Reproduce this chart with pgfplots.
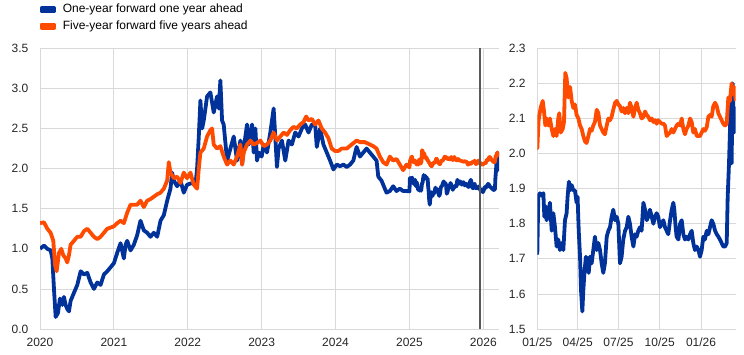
\documentclass[border=0pt]{standalone}
\usepackage{fontspec}
\setmainfont{Liberation Sans}
\usepackage{pgfplots}
\usepackage{pgfplotstable}
\pgfplotsset{compat=1.18}
\definecolor{ecbblue}{RGB}{0,50,153}
\definecolor{ecborange}{RGB}{255,75,0}
\definecolor{gridgray}{RGB}{217,217,217}
\definecolor{vline}{RGB}{90,90,90}

\pgfplotstableread{
x y
2020.000 1.00
2020.054 1.04
2020.099 1.00
2020.144 0.98
2020.167 0.88
2020.189 0.50
2020.212 0.15
2020.243 0.20
2020.270 0.38
2020.302 0.30
2020.324 0.40
2020.347 0.30
2020.369 0.25
2020.392 0.22
2020.414 0.35
2020.459 0.45
2020.505 0.55
2020.550 0.72
2020.595 0.68
2020.640 0.70
2020.685 0.58
2020.730 0.50
2020.775 0.58
2020.820 0.55
2020.865 0.68
2020.910 0.72
2021.000 0.82
2021.045 0.95
2021.090 1.07
2021.135 0.88
2021.158 1.05
2021.180 1.10
2021.225 0.98
2021.270 1.05
2021.315 1.17
2021.360 1.35
2021.405 1.23
2021.450 1.20
2021.495 1.15
2021.541 1.20
2021.586 1.15
2021.631 1.35
2021.676 1.42
2021.721 1.60
2021.766 1.75
2021.788 1.95
2021.811 1.85
2021.856 1.78
2021.901 1.85
2021.946 1.70
2021.991 1.80
2022.059 1.82
2022.104 1.80
2022.126 2.00
2022.149 2.40
2022.171 2.85
2022.194 2.50
2022.216 2.60
2022.239 2.75
2022.261 2.90
2022.306 2.95
2022.351 2.70
2022.396 2.90
2022.419 2.75
2022.441 3.10
2022.464 2.60
2022.486 2.55
2022.532 2.10
2022.577 2.25
2022.622 2.40
2022.667 2.10
2022.712 2.35
2022.735 2.05
2022.757 2.25
2022.802 2.55
2022.825 2.30
2022.870 2.55
2022.892 2.20
2022.915 2.50
2022.937 2.10
2022.960 2.20
2023.000 2.15
2023.027 2.30
2023.072 2.20
2023.117 2.45
2023.162 2.75
2023.184 2.40
2023.207 2.02
2023.229 2.25
2023.274 2.35
2023.319 2.10
2023.364 2.35
2023.409 2.30
2023.454 2.45
2023.499 2.40
2023.544 2.50
2023.589 2.55
2023.634 2.45
2023.679 2.55
2023.724 2.55
2023.746 2.27
2023.791 2.50
2023.836 2.30
2023.881 2.20
2023.926 2.10
2023.971 1.99
2024.016 2.05
2024.061 2.03
2024.106 2.05
2024.151 2.02
2024.196 2.05
2024.240 2.10
2024.285 2.27
2024.330 2.15
2024.375 2.20
2024.420 2.25
2024.465 2.20
2024.510 2.15
2024.555 2.10
2024.578 1.90
2024.622 1.85
2024.667 1.75
2024.690 1.70
2024.735 1.72
2024.780 1.78
2024.825 1.72
2024.870 1.75
2024.915 1.72
2024.960 1.72
2025.000 1.716
2025.006 1.877
2025.016 1.887
2025.026 1.880
2025.037 1.887
2025.043 1.820
2025.051 1.850
2025.057 1.810
2025.067 1.830
2025.077 1.860
2025.088 1.780
2025.098 1.830
2025.108 1.790
2025.118 1.735
2025.128 1.755
2025.138 1.725
2025.149 1.745
2025.159 1.725
2025.169 1.810
2025.179 1.830
2025.185 1.877
2025.193 1.920
2025.200 1.895
2025.210 1.910
2025.220 1.895
2025.230 1.895
2025.240 1.860
2025.246 1.877
2025.253 1.780
2025.261 1.706
2025.267 1.610
2025.275 1.550
2025.281 1.610
2025.289 1.668
2025.297 1.706
2025.305 1.687
2025.314 1.660
2025.322 1.706
2025.332 1.687
2025.342 1.725
2025.352 1.763
2025.363 1.725
2025.373 1.745
2025.383 1.725
2025.393 1.687
2025.403 1.660
2025.413 1.687
2025.424 1.763
2025.434 1.780
2025.444 1.790
2025.454 1.820
2025.464 1.840
2025.475 1.810
2025.485 1.820
2025.495 1.800
2025.505 1.687
2025.515 1.706
2025.525 1.755
2025.536 1.780
2025.546 1.790
2025.556 1.820
2025.566 1.800
2025.576 1.763
2025.587 1.735
2025.597 1.770
2025.607 1.763
2025.617 1.780
2025.627 1.790
2025.637 1.780
2025.648 1.860
2025.658 1.840
2025.668 1.810
2025.678 1.820
2025.688 1.840
2025.699 1.820
2025.709 1.800
2025.719 1.820
2025.729 1.830
2025.739 1.820
2025.749 1.790
2025.760 1.800
2025.770 1.810
2025.780 1.790
2025.790 1.780
2025.800 1.770
2025.811 1.810
2025.821 1.840
2025.831 1.860
2025.837 1.840
2025.845 1.790
2025.851 1.763
2025.862 1.755
2025.872 1.800
2025.882 1.810
2025.892 1.770
2025.902 1.755
2025.912 1.763
2025.923 1.755
2025.933 1.770
2025.943 1.780
2025.953 1.745
2025.963 1.725
2025.974 1.735
2025.984 1.725
2025.994 1.706
2026.004 1.725
2026.014 1.763
2026.024 1.755
2026.035 1.780
2026.045 1.770
2026.055 1.790
2026.065 1.810
2026.075 1.800
2026.086 1.780
2026.096 1.770
2026.106 1.763
2026.116 1.755
2026.126 1.745
2026.136 1.735
2026.147 1.735
2026.157 1.745
2026.163 1.877
2026.171 1.972
2026.177 2.067
2026.181 2.162
2026.187 1.972
2026.193 2.200
2026.202 2.060
2026.212 2.134
}\bluedata

\pgfplotstableread{
x y
2020.000 1.32
2020.054 1.33
2020.099 1.25
2020.144 1.20
2020.180 1.10
2020.203 0.80
2020.225 0.72
2020.257 0.95
2020.288 1.00
2020.315 0.92
2020.347 0.88
2020.369 0.83
2020.392 0.92
2020.414 1.05
2020.459 1.10
2020.505 1.15
2020.550 1.15
2020.595 1.22
2020.640 1.25
2020.685 1.20
2020.730 1.15
2020.775 1.12
2020.820 1.15
2020.865 1.20
2020.910 1.25
2021.000 1.28
2021.045 1.32
2021.090 1.35
2021.135 1.32
2021.180 1.45
2021.225 1.55
2021.270 1.55
2021.315 1.55
2021.360 1.60
2021.405 1.52
2021.450 1.60
2021.495 1.62
2021.541 1.65
2021.586 1.68
2021.631 1.70
2021.676 1.75
2021.721 1.85
2021.743 2.08
2021.766 1.95
2021.811 1.88
2021.856 1.90
2021.901 1.82
2021.946 1.95
2021.991 1.88
2022.036 1.95
2022.081 1.80
2022.126 1.75
2022.149 2.00
2022.171 2.20
2022.216 2.25
2022.261 2.40
2022.306 2.48
2022.329 2.50
2022.351 2.30
2022.396 2.25
2022.441 2.28
2022.486 2.15
2022.532 2.05
2022.577 2.10
2022.622 2.05
2022.667 2.15
2022.712 2.30
2022.735 2.05
2022.757 2.20
2022.802 2.30
2022.847 2.35
2022.892 2.30
2022.937 2.32
2022.982 2.35
2023.027 2.28
2023.072 2.30
2023.117 2.35
2023.162 2.45
2023.207 2.35
2023.252 2.40
2023.297 2.45
2023.342 2.42
2023.387 2.48
2023.431 2.52
2023.476 2.50
2023.521 2.55
2023.566 2.58
2023.602 2.65
2023.634 2.60
2023.679 2.62
2023.724 2.55
2023.769 2.60
2023.813 2.50
2023.858 2.45
2023.903 2.38
2023.948 2.25
2023.993 2.22
2024.038 2.22
2024.083 2.25
2024.151 2.25
2024.218 2.30
2024.285 2.35
2024.330 2.33
2024.398 2.33
2024.465 2.30
2024.510 2.28
2024.555 2.25
2024.600 2.15
2024.645 2.08
2024.690 2.05
2024.735 2.15
2024.780 2.10
2024.825 2.12
2024.870 2.05
2024.915 1.98
2024.960 2.05
2025.000 2.015
2025.008 2.095
2025.020 2.130
2025.033 2.150
2025.041 2.120
2025.049 2.080
2025.057 2.100
2025.067 2.080
2025.077 2.100
2025.088 2.070
2025.098 2.050
2025.108 2.070
2025.118 2.050
2025.128 2.100
2025.134 2.115
2025.143 2.060
2025.155 2.070
2025.163 2.090
2025.171 2.230
2025.179 2.215
2025.189 2.160
2025.200 2.190
2025.210 2.150
2025.220 2.130
2025.230 2.140
2025.240 2.110
2025.251 2.100
2025.261 2.080
2025.271 2.070
2025.281 2.050
2025.291 2.035
2025.301 2.030
2025.312 2.050
2025.322 2.070
2025.332 2.065
2025.342 2.080
2025.352 2.090
2025.363 2.125
2025.373 2.115
2025.383 2.080
2025.393 2.070
2025.403 2.060
2025.413 2.055
2025.424 2.080
2025.434 2.100
2025.444 2.095
2025.454 2.105
2025.464 2.125
2025.475 2.145
2025.485 2.150
2025.495 2.140
2025.505 2.135
2025.515 2.120
2025.525 2.130
2025.536 2.115
2025.546 2.130
2025.556 2.115
2025.566 2.145
2025.576 2.130
2025.587 2.105
2025.597 2.130
2025.607 2.145
2025.617 2.125
2025.627 2.115
2025.637 2.100
2025.648 2.105
2025.658 2.120
2025.668 2.110
2025.678 2.105
2025.688 2.095
2025.699 2.100
2025.709 2.090
2025.719 2.095
2025.729 2.085
2025.739 2.095
2025.749 2.090
2025.760 2.085
2025.770 2.085
2025.780 2.080
2025.790 2.050
2025.800 2.055
2025.811 2.060
2025.821 2.070
2025.831 2.060
2025.841 2.070
2025.851 2.080
2025.862 2.085
2025.872 2.080
2025.882 2.100
2025.892 2.070
2025.902 2.055
2025.912 2.070
2025.923 2.080
2025.933 2.100
2025.943 2.090
2025.953 2.060
2025.963 2.070
2025.974 2.050
2025.984 2.050
2025.994 2.050
2026.004 2.060
2026.014 2.070
2026.024 2.065
2026.035 2.075
2026.045 2.105
2026.055 2.110
2026.065 2.105
2026.075 2.135
2026.086 2.145
2026.096 2.135
2026.106 2.115
2026.116 2.105
2026.126 2.095
2026.136 2.085
2026.147 2.080
2026.157 2.085
2026.167 2.160
2026.177 2.150
2026.187 2.200
2026.193 2.170
2026.202 2.190
2026.212 2.150
}\orangedata

\pgfplotsset{
  ecbstyle/.style={
    scale only axis,
    height=280.7pt,
    axis x line*=bottom,
    axis y line*=left,
    axis line style={draw=gridgray, line width=0.8pt},
    grid=major,
    major grid style={draw=gridgray, line width=0.8pt},
    major tick length=0pt,
    tick label style={font=\fontsize{12}{14}\selectfont, text=black!85},
    xticklabel style={anchor=north, inner sep=0pt, yshift=-9pt},
    yticklabel style={anchor=east, inner sep=0pt, xshift=-11.5pt},
    clip=true,
  },
  bluestyle/.style={draw=ecbblue, line width=3.8pt, line join=round},
  orangestyle/.style={draw=ecborange, line width=3.8pt, line join=round},
}

\begin{document}
\begin{tikzpicture}
\begin{axis}[ecbstyle,
  at={(40pt,25pt)}, anchor=south west,
  width=459pt,
  xmin=2020, xmax=2026.212,
  ymin=0, ymax=3.5,
  xtick={2020,2021,2022,2023,2024,2025,2026},
  xticklabels={2020,2021,2022,2023,2024,2025,2026},
  ytick={0,0.5,1,1.5,2,2.5,3,3.5},
  yticklabels={0.0,0.5,1.0,1.5,2.0,2.5,3.0,3.5},
  legend cell align=left,
  legend image code/.code={\fill[#1] (0pt,-1.8pt) rectangle (12pt,1.8pt);},
  legend style={at={(axis description cs:0,1)}, anchor=south west,
    yshift=16pt, draw=none, fill=none, inner sep=0pt, outer sep=0pt,
    row sep=4.6pt,
    font=\fontsize{12}{14}\selectfont,
    nodes={inner sep=0pt, text height=9pt, text depth=3pt},
    /tikz/every odd column/.append style={column sep=7pt}},
]
\addplot[bluestyle] table[x=x,y=y] {\bluedata};
\addlegendentry{One-year forward one year ahead}
\addplot[orangestyle] table[x=x,y=y] {\orangedata};
\addlegendentry{Five-year forward five  years ahead}
\addplot[draw=vline, line width=2pt, forget plot] coordinates {(2025.955,0) (2025.955,3.5)};
\end{axis}

\begin{axis}[ecbstyle,
  at={(537.3pt,25pt)}, anchor=south west,
  width=198.4pt,
  xmin=2025, xmax=2026.212,
  ymin=1.5, ymax=2.3,
  xtick={2025,2025.247,2025.496,2025.748,2026},
  xticklabels={01/25,04/25,07/25,10/25,01/26},
  ytick={1.5,1.6,1.7,1.8,1.9,2.0,2.1,2.2,2.3},
  yticklabels={1.5,1.6,1.7,1.8,1.9,2.0,2.1,2.2,2.3},
]
\addplot[bluestyle] table[x=x,y=y] {\bluedata};
\addplot[orangestyle] table[x=x,y=y] {\orangedata};
\end{axis}
\pgfresetboundingbox
\path[use as bounding box] (0,0) rectangle (744pt,354pt);
\end{tikzpicture}
\end{document}
